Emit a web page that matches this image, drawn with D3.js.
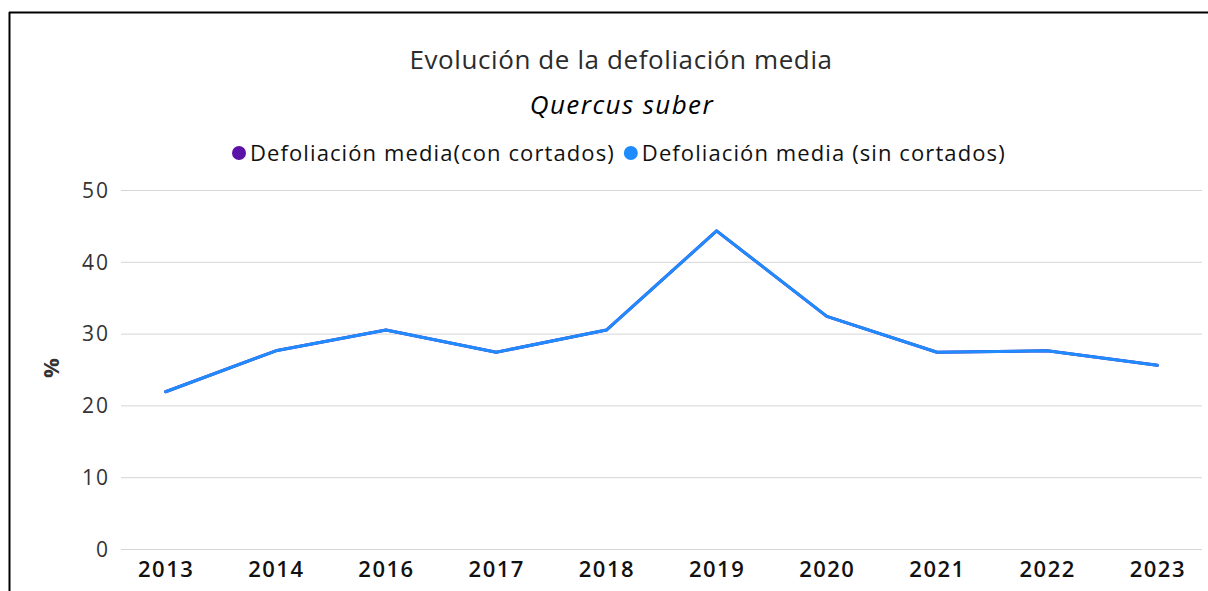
<!DOCTYPE html>
<meta charset="utf-8">
<head>
    <style>
        body { margin: 0; background: #fff; }
        .title { font-family: 'Open Sans', sans-serif; font-size: 26px; letter-spacing: 0.6px; font-weight: 500; fill: #2b2b2b; text-anchor: middle; }
        .subtitle { font-family: 'Open Sans', sans-serif; font-size: 26px; letter-spacing: 1.4px; font-style: italic; fill: #000; text-anchor: middle; }
        .legend-label { font-family: 'Open Sans', sans-serif; font-size: 22px; letter-spacing: 1.1px; fill: #111; }
        .y-axis text { font-family: 'Open Sans', sans-serif; font-size: 21px; letter-spacing: 2px; fill: #333; }
        .x-axis text { font-family: 'Open Sans', sans-serif; font-size: 22px; letter-spacing: 1.5px; font-weight: 600; fill: #111; }
        .y-title { font-family: 'Open Sans', sans-serif; font-size: 22px; font-weight: 700; fill: #333; text-anchor: middle; }
    </style>
</head>

<script src="https://d3js.org/d3.v7.min.js"></script>

<div id="chart"></div>

<script>
    const years = ["2013", "2014", "2016", "2017", "2018", "2019", "2020", "2021", "2022", "2023"];
    const conCortados = [21.9, 27.6, 30.5, 27.4, 30.5, 44.3, 32.4, 27.4, 27.6, 25.6];
    const sinCortados = [21.9, 27.6, 30.5, 27.4, 30.5, 44.3, 32.4, 27.4, 27.6, 25.6];
    const yTicks = [0, 10, 20, 30, 40, 50];
    const seriesNames = ["Defoliación media(con cortados)", "Defoliación media (sin cortados)"];
    const seriesColors = ["#5c12a6", "#1e8cff"];

    const W = 1208, H = 591;
    const margin = { top: 190, right: 6, bottom: 42, left: 121 };

    const svg = d3.select("#chart")
        .append("svg")
        .attr("width", W)
        .attr("height", H);

    // frame (left and top edges visible)
    svg.append("line").attr("x1", 9.5).attr("x2", 9.5).attr("y1", 12).attr("y2", H).attr("stroke", "#000").attr("stroke-width", 2);
    svg.append("line").attr("x1", 9).attr("x2", W).attr("y1", 12.5).attr("y2", 12.5).attr("stroke", "#000").attr("stroke-width", 2);

    const x = d3.scalePoint()
        .domain(years)
        .range([margin.left, W - margin.right])
        .padding(0.405);

    const y = d3.scaleLinear()
        .domain([0, 50])
        .range([549, margin.top]);

    // titles
    svg.append("text").attr("class", "title").attr("x", 621).attr("y", 69).text("Evolución de la defoliación media");
    svg.append("text").attr("class", "subtitle").attr("x", 622).attr("y", 114).text("Quercus suber");

    // legend
    const legend = svg.append("g").attr("transform", "translate(231,153)");
    let lx = 0;
    seriesNames.forEach((name, i) => {
        const g = legend.append("g").attr("transform", "translate(" + lx + ",0)");
        g.append("circle").attr("cx", 8).attr("cy", 0).attr("r", 7).attr("fill", seriesColors[i]);
        const t = g.append("text").attr("class", "legend-label").attr("x", 19).attr("y", 8).text(name);
        lx += 19 + t.node().getComputedTextLength() + 8;
    });

    // y grid + labels
    const yAxis = svg.append("g")
        .attr("class", "y-axis")
        .attr("transform", "translate(" + margin.left + ",0)")
        .call(d3.axisLeft(y).tickValues(yTicks).tickSize(-(W - margin.right - margin.left)).tickPadding(11))
        .call(g => g.select(".domain").remove());
    yAxis.selectAll(".tick line").attr("stroke", "#d6d6d6");
    yAxis.selectAll(".tick text").attr("dy", "0.35em");

    svg.append("text")
        .attr("class", "y-title")
        .attr("transform", "translate(59,368) rotate(-90)")
        .text("%");

    // x labels
    svg.append("g")
        .attr("class", "x-axis")
        .attr("transform", "translate(0,549)")
        .call(d3.axisBottom(x).tickSize(0).tickPadding(12))
        .call(g => g.select(".domain").remove());

    // lines
    const line = d3.line()
        .x((d, i) => x(years[i]))
        .y(d => y(d));

    [conCortados, sinCortados].forEach((values, i) => {
        svg.append("path")
            .datum(values)
            .attr("fill", "none")
            .attr("stroke", seriesColors[i])
            .attr("stroke-width", 3)
            .attr("stroke-linejoin", "round")
            .attr("stroke-linecap", "round")
            .attr("d", line);
    });
</script>
